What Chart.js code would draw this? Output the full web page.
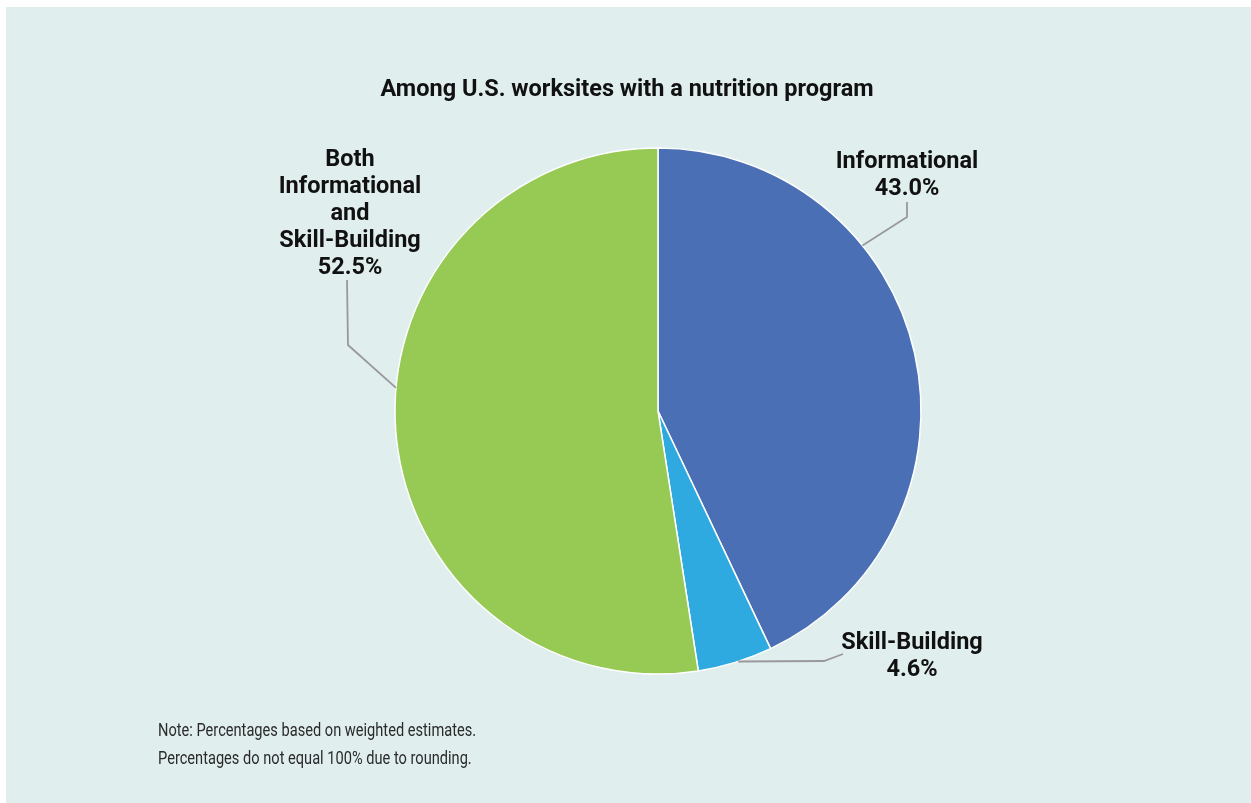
<!DOCTYPE html>
<html>
<head>
<meta charset="utf-8">
<script src="https://cdn.jsdelivr.net/npm/chart.js@4/dist/chart.umd.min.js"></script>
<style>
  html, body { margin: 0; padding: 0; background: #ffffff; overflow: hidden; }
  #wrap { position: absolute; left: 0; top: 0; width: 1251px; height: 803px; }
</style>
</head>
<body>
<div id="wrap"><canvas id="pie" width="1251" height="803"></canvas></div>
<script>
// Program types and their shares (%)
const categories = ['Informational', 'Skill-Building', 'Both Informational and Skill-Building'];
const shares = [43.0, 4.6, 52.5];
// How each category name is broken over lines in its callout
const labelLines = [
  ['Informational'],
  ['Skill-Building'],
  ['Both', 'Informational', 'and', 'Skill-Building']
];
const titleText = 'Among U.S. worksites with a nutrition program';
const noteLines = [
  'Note: Percentages based on weighted estimates.',
  'Percentages do not equal 100% due to rounding.'
];

const sliceColors = ['#4a6fb5', '#2eaae1', '#97c955'];

// Callout geometry: where the leader leaves the slice edge (fraction along the arc),
// its bend points, and where the text block sits.
const callouts = [
  { along: 0.33, path: [[907, 217], [907, 202]], textX: 907, firstY: 162, lineH: 27 },
  { along: 0.46, path: [[824, 661], [843, 654]], textX: 912, firstY: 643, lineH: 27 },
  { along: 0.55, path: [[348, 345], [347, 280]], textX: 350, firstY: 160, lineH: 27 }
];

const BOLD = "bold 23.5px Roboto, 'Open Sans', sans-serif";
const NOTE = "18.5px Roboto, 'Open Sans', sans-serif";
const NOTE_SQUEEZE = 0.79;   // narrow setting for the footnote

const backdrop = {
  id: 'backdrop',
  beforeDraw(chart) {
    const ctx = chart.ctx;
    ctx.save();
    ctx.fillStyle = '#ffffff';
    ctx.fillRect(0, 0, chart.width, chart.height);
    ctx.fillStyle = '#e0eeee';
    ctx.fillRect(6, 7, chart.width, chart.height);
    ctx.restore();
  }
};

const annotations = {
  id: 'annotations',
  afterDraw(chart) {
    const ctx = chart.ctx;
    const arcs = chart.getDatasetMeta(0).data;
    ctx.save();

    // title
    ctx.fillStyle = '#111111';
    ctx.font = BOLD;
    ctx.textAlign = 'center';
    ctx.textBaseline = 'middle';
    ctx.fillText(titleText, 627, 90);

    // leaders and callout text
    arcs.forEach((arc, i) => {
      const c = callouts[i];
      const p = arc.getProps(['x', 'y', 'startAngle', 'endAngle', 'outerRadius'], true);
      const a = p.startAngle + c.along * (p.endAngle - p.startAngle);
      const sx = p.x + p.outerRadius * Math.cos(a);
      const sy = p.y + p.outerRadius * Math.sin(a);
      ctx.beginPath();
      ctx.moveTo(sx, sy);
      c.path.forEach(pt => ctx.lineTo(pt[0], pt[1]));
      ctx.strokeStyle = '#999999';
      ctx.lineWidth = 1.8;
      ctx.stroke();

      const lines = labelLines[i].concat([shares[i].toFixed(1) + '%']);
      ctx.fillStyle = '#111111';
      ctx.font = BOLD;
      ctx.textAlign = 'center';
      ctx.textBaseline = 'middle';
      lines.forEach((t, k) => ctx.fillText(t, c.textX, c.firstY + k * c.lineH));
    });

    // notes
    ctx.font = NOTE;
    ctx.fillStyle = '#2a2a2a';
    ctx.textAlign = 'left';
    ctx.textBaseline = 'middle';
    noteLines.forEach((t, k) => {
      ctx.save();
      ctx.translate(158, 731 + k * 28);
      ctx.scale(NOTE_SQUEEZE, 1);
      ctx.fillText(t, 0, 0);
      ctx.restore();
    });

    ctx.restore();
  }
};

new Chart(document.getElementById('pie'), {
  type: 'pie',
  data: {
    labels: categories,
    datasets: [{
      data: shares,
      backgroundColor: sliceColors,
      borderColor: '#ffffff',
      borderWidth: 1.5
    }]
  },
  options: {
    responsive: false,
    animation: false,
    radius: 263,
    layout: { padding: { left: 394.25, top: 147.25, right: 329.25, bottom: 128.25 } },
    plugins: {
      legend: { display: false },
      tooltip: { enabled: false },
      title: { display: false }
    }
  },
  plugins: [backdrop, annotations]
});
</script>
</body>
</html>
